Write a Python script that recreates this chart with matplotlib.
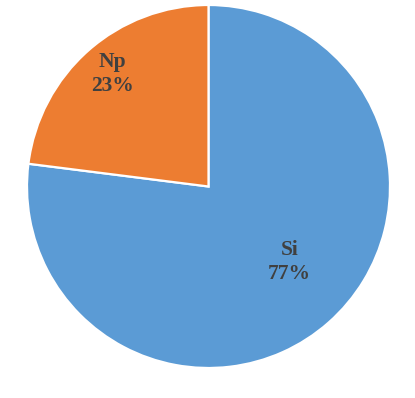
import numpy as np
import matplotlib.pyplot as plt

labels = ["Si", "Np"]
shares = [77, 23]
colors = ["#5B9BD5", "#ED7D31"]

fig = plt.figure(figsize=(4.15, 3.98), dpi=100)
# axes box = square bounding the pie
ax = fig.add_axes([27 / 415, 30 / 398, 363 / 415, 363 / 398])

wedges, _ = ax.pie(shares, colors=colors, startangle=90, counterclock=False,
                   wedgeprops=dict(edgecolor="white", linewidth=1.6))

# label radius / angle nudge per slice (Excel-style placement)
label_r = [0.61, 0.815]
label_nudge = [5.5, -1.0]
for w, lab, val, r, nd in zip(wedges, labels, shares, label_r, label_nudge):
    ang = np.deg2rad((w.theta1 + w.theta2) / 2 + nd)
    ax.text(r * np.cos(ang), r * np.sin(ang), f"{lab}\n{val}%",
            ha="center", va="center", fontsize=15.5, fontweight="bold",
            family="Liberation Serif", color="#404040", linespacing=1.25)

ax.set_xlim(-1, 1)
ax.set_ylim(-1, 1)
ax.set_aspect("equal")
ax.axis("off")

fig.savefig("out.png", dpi=100)
